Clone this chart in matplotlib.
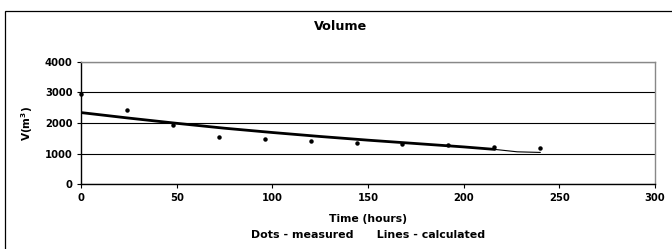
import matplotlib
matplotlib.use("Agg")
from matplotlib import pyplot as plt
from matplotlib.patches import Rectangle

plt.rcParams['font.family'] = ['DejaVu Sans']
plt.rcParams['font.weight'] = 'bold'

# measured volumes (dots)
timeMeas = [0, 24, 48, 72, 96, 120, 144, 168, 192, 216, 240]
volMeas = [2950, 2420, 1920, 1550, 1470, 1420, 1360, 1320, 1270, 1215, 1170]

# calculated volumes (lines)
timeCalc = [0, 25, 50, 75, 100, 125, 150, 175, 200, 216]
volCalc = [2340, 2160, 1990, 1830, 1690, 1560, 1440, 1330, 1220, 1140]
timeTail = [216, 228, 240]
volTail = [1140, 1060, 1040]

fig = plt.figure(figsize=(6.72, 2.49), dpi=100)
ax = fig.add_axes([81 / 672, 1 - 184.3 / 249, 574 / 672, 122.6 / 249])

ax.plot(timeCalc, volCalc, color='black', lw=2.0, zorder=3)
ax.plot(timeTail, volTail, color='black', lw=0.8, zorder=3)
ax.plot(timeMeas, volMeas, 'o', color='black', ms=2.2, zorder=4, clip_on=False)

ax.set_xlim(0, 300)
ax.set_ylim(0, 4000)
ax.set_xticks([0, 50, 100, 150, 200, 250, 300])
ax.set_yticks([0, 1000, 2000, 3000, 4000])
ax.yaxis.grid(True, color='black', lw=0.8)
ax.set_axisbelow(True)
for s in ['top', 'right']:
    ax.spines[s].set_color('#888888')
    ax.spines[s].set_linewidth(1.0)
for s in ['left', 'bottom']:
    ax.spines[s].set_color('black')
    ax.spines[s].set_linewidth(1.0)
ax.tick_params(labelsize=7.2, length=3, width=0.8, pad=3)
for lab in ax.get_xticklabels() + ax.get_yticklabels():
    lab.set_fontweight('bold')

fig.text(368 / 672, 1 - 219 / 249, "Time (hours)", ha='center', va='center',
         fontsize=7.8, fontweight='bold')
fig.text(368 / 672, 1 - 235 / 249, "Dots - measured      Lines - calculated",
         ha='center', va='center', fontsize=7.9, fontweight='bold')
fig.text(27 / 672, 1 - 123 / 249, "V(m$^\\mathbf{3}$)", ha='center', va='center',
         rotation=90, fontsize=7.6, fontweight='bold')
fig.text(341 / 672, 1 - 27 / 249, "Volume", ha='center', va='center',
         fontsize=9.2, fontweight='bold')

fig.patches.append(Rectangle((4.7 / 672, -0.05), 1.0, 1 - 11.3 / 249 + 0.05,
                             transform=fig.transFigure, fill=False,
                             edgecolor='black', lw=0.9))

fig.savefig("out.png", dpi=100)
